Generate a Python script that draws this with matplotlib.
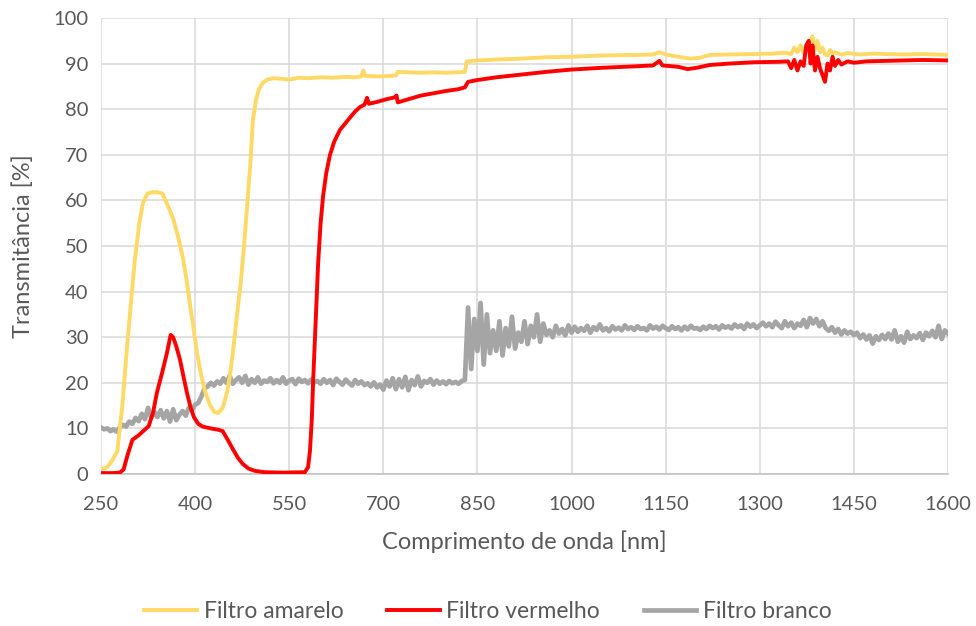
"""
Transmittance spectra of the three colour filters (yellow, red, white).
"""
import matplotlib
matplotlib.use("Agg")
import matplotlib.pyplot as plt
import numpy as np

# ── data ──────────────────────────────────────────────────────────────────────

AMARELO_NM = [
    250, 260, 268, 276, 284, 291, 298, 304, 311, 317, 324, 332, 340, 348, 356,
    365, 373, 381, 387, 392, 398, 403, 410, 416, 424, 431, 437, 444, 451, 456,
    460, 466, 472, 478, 483, 488, 492, 497, 502, 508, 515, 525, 535, 550, 565,
    580, 600, 620, 640, 655, 665, 668, 671, 690, 710, 720, 723, 740, 760, 780,
    800, 820, 830, 833, 850, 880, 920, 960, 1000, 1050, 1100, 1130, 1140, 1150,
    1170, 1190, 1205, 1220, 1250, 1290, 1320, 1340, 1350, 1355, 1360, 1365,
    1370, 1375, 1380, 1384, 1388, 1392, 1396, 1400, 1404, 1408, 1412, 1416,
    1420, 1430, 1440, 1460, 1480, 1500, 1530, 1560, 1600,
]
AMARELO_T = [
    1.0, 1.5, 3.0, 5.0, 15.0, 27.0, 38.0, 47.0, 55.0, 59.5, 61.5, 61.8, 61.8,
    61.5, 59.0, 56.0, 52.0, 47.0, 42.0, 37.0, 31.5, 26.5, 21.5, 18.0, 15.0,
    13.6, 13.4, 14.5, 18.0, 22.0, 26.5, 34.0, 41.0, 50.0, 59.0, 68.0, 77.5,
    82.0, 84.5, 85.8, 86.5, 86.8, 86.7, 86.5, 86.9, 86.8, 87.0, 86.9, 87.1,
    87.0, 87.2, 88.5, 87.3, 87.2, 87.3, 87.4, 88.2, 88.1, 88.0, 88.1, 88.0,
    88.1, 88.2, 90.5, 90.7, 90.9, 91.1, 91.4, 91.5, 91.8, 91.9, 92.0, 92.5,
    92.0, 91.5, 91.1, 91.3, 91.9, 92.0, 92.1, 92.2, 92.4, 92.1, 93.5, 92.5,
    94.0, 92.3, 93.0, 94.5, 96.0, 93.0, 95.0, 92.5, 93.5, 92.0, 91.8, 93.0,
    92.2, 92.5, 92.0, 92.3, 92.0, 92.2, 92.1, 92.0, 92.1, 91.9,
]

VERMELHO_NM = [
    250, 270, 280, 286, 292, 300, 310, 318, 326, 333, 339, 347, 355, 361, 365,
    370, 376, 382, 387, 393, 398, 405, 412, 425, 437, 444, 452, 460, 468, 476,
    485, 495, 510, 540, 575, 580, 583, 586, 588, 592, 596, 600, 604, 609, 615,
    622, 631, 640, 647, 655, 663, 670, 674, 677, 690, 705, 718, 721, 723, 740,
    760, 780, 800, 820, 830, 835, 850, 880, 920, 960, 1000, 1050, 1100, 1130,
    1140, 1145, 1170, 1185, 1200, 1220, 1250, 1290, 1330, 1345, 1350, 1355,
    1360, 1365, 1370, 1374, 1378, 1381, 1384, 1388, 1392, 1396, 1400, 1404,
    1408, 1412, 1416, 1420, 1425, 1430, 1440, 1450, 1470, 1500, 1530, 1560,
    1600,
]
VERMELHO_T = [
    0.2, 0.2, 0.3, 1.0, 4.0, 7.5, 8.5, 9.5, 10.5, 13.5, 17.8, 22.0, 26.5, 30.5,
    30.0, 28.0, 25.0, 21.0, 17.8, 14.5, 12.5, 11.0, 10.4, 10.0, 9.7, 9.4, 7.5,
    5.5, 3.6, 2.2, 1.2, 0.7, 0.4, 0.3, 0.4, 1.5, 5.0, 12.0, 20.0, 33.0, 46.0,
    55.0, 61.0, 66.0, 70.0, 73.0, 75.5, 77.0, 78.2, 79.5, 80.5, 81.0, 82.5,
    81.2, 81.6, 82.2, 82.6, 83.0, 81.5, 82.2, 83.0, 83.5, 84.0, 84.4, 84.8,
    86.0, 86.4, 87.0, 87.6, 88.2, 88.7, 89.1, 89.4, 89.6, 90.6, 89.6, 89.3,
    88.8, 89.1, 89.7, 90.0, 90.3, 90.4, 90.5, 89.0, 90.8, 88.5, 90.5, 89.5,
    94.0, 95.0, 90.0, 94.0, 88.5, 91.5, 89.0, 87.5, 86.0, 90.0, 88.5, 91.5,
    89.5, 90.8, 89.8, 90.5, 90.2, 90.5, 90.6, 90.7, 90.8, 90.7,
]

# white filter, sampled every 5 nm from 250 to 1600
BRANCO_NM = np.arange(250, 1601, 5)
BRANCO_T = [
    # 250 - 400
    10.2, 9.8, 10.0, 9.4, 9.8, 9.3, 10.2, 10.8, 10.4, 11.5, 11.0, 12.3, 11.6,
    13.2, 12.0, 14.5, 12.4, 13.6, 12.5, 14.0, 12.2, 13.8, 11.5, 14.2, 11.8,
    13.0, 13.8, 12.8, 14.5, 14.0, 15.2,
    # 405 - 500
    15.6, 17.0, 18.8, 19.2, 20.0, 19.4, 20.3, 19.8, 21.0, 20.0,
    21.5, 19.8, 20.6, 21.2, 20.0, 21.5, 19.6, 20.8, 20.0, 21.2,
    # 505 - 600
    19.8, 20.5, 20.2, 21.0, 19.9, 20.6, 20.0, 21.2, 19.8, 20.5,
    20.8, 19.7, 20.9, 20.2, 20.6, 19.9, 20.7, 20.1, 20.4, 19.8,
    # 605 - 700
    20.8, 20.0, 20.6, 19.5, 20.9, 20.2, 19.6, 20.7, 20.0, 19.4,
    20.6, 19.8, 20.3, 19.5, 19.9, 19.2, 20.1, 19.0, 19.6, 18.5,
    # 705 - 800
    20.5, 19.2, 21.0, 18.6, 20.8, 19.0, 21.3, 18.4, 20.6, 19.5,
    21.4, 19.2, 20.4, 20.0, 20.8, 19.6, 20.5, 19.8, 20.3, 19.7,
    # 805 - 900
    20.4, 19.9, 20.2, 19.8, 20.4, 20.6, 36.5, 23.0, 34.0, 27.0,
    37.5, 24.0, 35.0, 26.5, 31.5, 27.0, 33.5, 26.0, 32.0, 28.0,
    # 905 - 1000
    34.5, 27.5, 31.0, 29.0, 33.5, 28.5, 32.5, 30.0, 35.0, 29.0,
    33.0, 30.5, 31.5, 30.0, 32.5, 30.8, 31.8, 30.4, 32.6, 31.0,
    # 1005 - 1100
    32.3, 31.2, 32.0, 31.4, 32.5, 31.0, 32.2, 31.6, 32.8, 31.5,
    32.0, 31.3, 32.4, 31.7, 32.1, 31.5, 32.6, 31.8, 32.2, 31.6,
    # 1105 - 1200
    32.4, 31.8, 32.0, 31.5, 32.6, 31.9, 32.3, 31.7, 32.5, 32.0,
    31.6, 32.4, 31.8, 32.2, 31.5, 32.3, 31.7, 32.5, 31.9, 32.0,
    # 1205 - 1300
    31.6, 32.3, 31.8, 32.5, 32.0, 32.4, 31.7, 32.6, 32.1, 32.4,
    31.9, 32.8, 32.2, 32.6, 31.8, 33.0, 32.3, 32.8, 32.0, 32.6,
    # 1305 - 1400
    33.2, 32.4, 33.0, 32.2, 33.4, 32.6, 32.0, 33.5, 32.4, 33.2,
    32.0, 33.0, 32.5, 33.8, 32.2, 34.2, 33.0, 34.0, 32.4, 33.5,
    # 1405 - 1500
    32.0, 31.4, 32.2, 31.0, 31.8, 30.6, 31.5, 30.8, 31.2, 30.5,
    31.0, 29.8, 30.6, 29.5, 30.4, 28.6, 30.2, 29.4, 30.5, 29.6,
    # 1505 - 1600
    30.8, 29.5, 31.5, 29.0, 30.2, 28.8, 31.2, 29.6, 30.4, 29.8,
    30.9, 29.4, 31.0, 30.2, 31.4, 30.0, 32.5, 29.6, 31.5, 30.8,
]

X_TICKS = [250, 400, 550, 700, 850, 1000, 1150, 1300, 1450, 1600]
Y_TICKS = list(range(0, 101, 10))

COR_AMARELO = "#FFD966"
COR_VERMELHO = "#FF0000"
COR_BRANCO = "#A5A5A5"
TXT = "#595959"

plt.rcParams.update({
    "font.family": ["Lato", "DejaVu Sans"],
    "font.size": 14,
})

# ── plot ──────────────────────────────────────────────────────────────────────

fig = plt.figure(figsize=(9.76, 6.26), dpi=100)
ax = fig.add_axes([0.1035, 0.2428, 0.8678, 0.7284])

ax.plot(AMARELO_NM, AMARELO_T, color=COR_AMARELO, lw=2.8, label="Filtro amarelo",
        solid_joinstyle="round", zorder=3)
ax.plot(VERMELHO_NM, VERMELHO_T, color=COR_VERMELHO, lw=2.8, label="Filtro vermelho",
        solid_joinstyle="round", zorder=4)
ax.plot(BRANCO_NM, BRANCO_T, color=COR_BRANCO, lw=3.4, label="Filtro branco",
        solid_joinstyle="round", zorder=2)

ax.set_xlim(250, 1600)
ax.set_ylim(0, 100)
ax.set_xticks(X_TICKS)
ax.set_yticks(Y_TICKS)
ax.grid(True, color="#D9D9D9", lw=1.1)
ax.set_axisbelow(True)
for s in ("top", "right", "left"):
    ax.spines[s].set_visible(False)
ax.spines["bottom"].set_color("#BFBFBF")
ax.spines["bottom"].set_linewidth(1.1)
ax.tick_params(length=0, colors=TXT, labelsize=14.5)
ax.tick_params(axis="x", pad=16)
ax.tick_params(axis="y", pad=9)

ax.set_xlabel("Comprimento de onda [nm]", color=TXT, fontsize=17, labelpad=12)
ax.set_ylabel("Transmitância [%]", color=TXT, fontsize=17, labelpad=14)

leg = fig.legend(loc="center", bbox_to_anchor=(0.5, 1 - 612 / 626), ncol=3,
                 frameon=False, fontsize=16.5, handlelength=2.3, handletextpad=0.3,
                 columnspacing=1.9)
for t in leg.get_texts():
    t.set_color(TXT)

fig.savefig("out.png", dpi=100)
